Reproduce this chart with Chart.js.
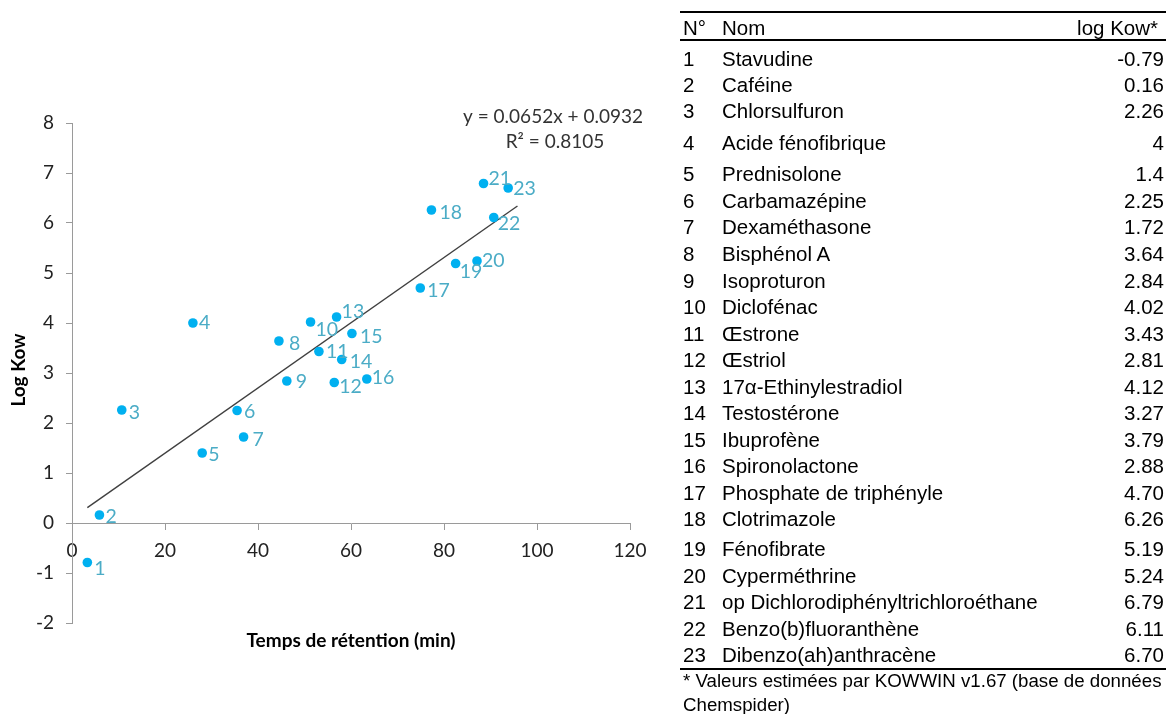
<!DOCTYPE html>
<html>
<head>
<meta charset="utf-8">
<script src="https://cdn.jsdelivr.net/npm/chart.js@4.4.1/dist/chart.umd.min.js"></script>
<style>
  html, body { margin:0; padding:0; background:#fff; }
  body { width:1169px; height:714px; position:relative; overflow:hidden; }
  #wrap { position:absolute; left:0; top:0; width:660px; height:714px; }
  #tbl { position:absolute; left:0; top:0; width:1169px; height:714px; font-family:'Liberation Sans', Arial, sans-serif; color:#000; }
  .t { position:absolute; white-space:nowrap; height:26px; line-height:26px; font-size:20.5px; }
  .rule { position:absolute; left:680px; width:486px; background:#000; }
</style>
</head>
<body>
<div id="wrap"><canvas id="c" width="660" height="714"></canvas></div>
<div id="tbl"></div>
<script>
// ---------- data ----------
const compoundIds = ['1','2','3','4','5','6','7','8','9','10','11','12','13','14','15','16','17','18','19','20','21','22','23'];
const retentionTimes = [3.3, 5.9, 10.7, 26.0, 28.0, 35.5, 36.9, 44.5, 46.2, 51.3, 53.1, 56.4, 56.9, 58.0, 60.2, 63.4, 74.9, 77.3, 82.5, 87.1, 88.5, 90.7, 93.8];
const logKow = [-0.79, 0.16, 2.26, 4, 1.4, 2.25, 1.72, 3.64, 2.84, 4.02, 3.43, 2.81, 4.12, 3.27, 3.79, 2.88, 4.70, 6.26, 5.19, 5.24, 6.79, 6.11, 6.70];
const logKowText = ['-0.79','0.16','2.26','4','1.4','2.25','1.72','3.64','2.84','4.02','3.43','2.81','4.12','3.27','3.79','2.88','4.70','6.26','5.19','5.24','6.79','6.11','6.70'];
const compoundNames = ['Stavudine','Caféine','Chlorsulfuron','Acide fénofibrique','Prednisolone','Carbamazépine','Dexaméthasone','Bisphénol A','Isoproturon','Diclofénac','Œstrone','Œstriol','17α-Ethinylestradiol','Testostérone','Ibuprofène','Spironolactone','Phosphate de triphényle','Clotrimazole','Fénofibrate','Cyperméthrine','op Dichlorodiphényltrichloroéthane','Benzo(b)fluoranthène','Dibenzo(ah)anthracène'];
const trendSlope = 0.0652;
const trendIntercept = 0.0932;
const trendR2 = '0.8105';
const trendXRange = [3.3, 95.8];
const xTickRange = [0, 120, 20];
const yTickRange = [-2, 8, 1];
const xAxisTitle = 'Temps de rétention (min)';
const yAxisTitle = 'Log Kow';
const tableHeader = ['N°', 'Nom', 'log Kow*'];
const footnoteLines = ['* Valeurs estimées par KOWWIN v1.67 (base de données', 'Chemspider)'];

// ---------- style (label nudges in px) ----------
const labelDx = [7,6,7,6,6,7,9,10,9,5,7,5,5,8,8,5,7,8,4,5,5,4,5];
const labelDy = [6,2,3,0,2,1,3,3,1,8,0,4,-5,2,3,-1,3,3,8,0,-5,6,1];

const points = retentionTimes.map((x, i) => ({x: x, y: logKow[i]}));
const trendPoints = trendXRange.map(x => ({x: x, y: trendSlope * x + trendIntercept}));

const FONT = 'Lato, "Open Sans", sans-serif';
const axisGray = '#9a9a9a';

const overlay = {
  id: 'overlay',
  afterDatasetsDraw(chart) {
    const ctx = chart.ctx;
    const meta = chart.getDatasetMeta(0);
    ctx.save();
    ctx.font = '19.5px ' + FONT;
    ctx.fillStyle = '#4BACC6';
    ctx.textAlign = 'left';
    ctx.textBaseline = 'middle';
    meta.data.forEach((el, i) => {
      ctx.fillText(compoundIds[i], el.x + labelDx[i], el.y + labelDy[i]);
    });
    // trendline equation
    const ca = chart.chartArea;
    ctx.font = '19px ' + FONT;
    ctx.fillStyle = '#333';
    ctx.textAlign = 'center';
    const sign = trendIntercept >= 0 ? '+' : '-';
    ctx.fillText('y = ' + trendSlope.toFixed(4) + 'x ' + sign + ' ' + Math.abs(trendIntercept).toFixed(4), ca.left + 481, ca.top - 6);
    ctx.fillText('R² = ' + trendR2, ca.left + 483, ca.top + 19);
    // axis titles
    ctx.fillStyle = '#000';
    ctx.font = 'bold 19px ' + FONT;
    ctx.fillText(xAxisTitle, (ca.left + ca.right) / 2, ca.bottom + 18);
    ctx.translate(19, (ca.top + ca.bottom) / 2 - 3);
    ctx.rotate(-Math.PI / 2);
    ctx.fillText(yAxisTitle, 0, 0);
    ctx.restore();
  }
};

new Chart(document.getElementById('c'), {
  type: 'scatter',
  data: {
    datasets: [
      { label: 'Log Kow', data: points, backgroundColor: '#00B0F0', borderColor: '#00B0F0', borderWidth: 0, pointRadius: 4.8, pointHoverRadius: 4.8 },
      { type: 'line', label: 'Linéaire', data: trendPoints, borderColor: '#404040', borderWidth: 1.4, pointRadius: 0, showLine: true, fill: false, tension: 0 }
    ]
  },
  options: {
    responsive: false,
    animation: false,
    devicePixelRatio: 1,
    layout: { padding: { left: 0, top: 123, right: 30, bottom: 91 } },
    plugins: { legend: { display: false }, tooltip: { enabled: false } },
    scales: {
      x: {
        type: 'linear', position: { y: 0 },
        min: xTickRange[0], max: xTickRange[1],
        ticks: { stepSize: xTickRange[2], font: { family: FONT, size: 19 }, color: '#222', padding: 10, maxRotation: 0 },
        grid: { drawOnChartArea: false, drawTicks: true, tickLength: 6, color: axisGray },
        border: { color: axisGray, width: 1 },
        afterFit(s) { s.height = 0; }
      },
      y: {
        type: 'linear', position: 'left',
        min: yTickRange[0], max: yTickRange[1],
        ticks: { stepSize: yTickRange[2], font: { family: FONT, size: 19 }, color: '#222', padding: 12 },
        grid: { drawOnChartArea: false, drawTicks: true, tickLength: 6, color: axisGray },
        border: { color: axisGray, width: 1 },
        afterFit(s) { s.width = 72; }
      }
    }
  },
  plugins: [overlay]
});

// ---------- table ----------
const tbl = document.getElementById('tbl');
function addText(txt, left, centerY, align, extra) {
  const d = document.createElement('div');
  d.className = 't';
  d.textContent = txt;
  d.style.top = (centerY - 13) + 'px';
  if (align === 'right') { d.style.right = (1169 - left) + 'px'; } else { d.style.left = left + 'px'; }
  if (extra) Object.assign(d.style, extra);
  tbl.appendChild(d);
}
function addRule(top, h) {
  const r = document.createElement('div');
  r.className = 'rule';
  r.style.top = top + 'px';
  r.style.height = h + 'px';
  tbl.appendChild(r);
}
addRule(11, 2);
addText(tableHeader[0], 683, 28, 'left');
addText(tableHeader[1], 722, 28, 'left');
addText(tableHeader[2], 1158, 28, 'right');
addRule(39, 2);
const rowGaps = [0, 26.2, 26.2, 31.5, 31.5, 26.54, 26.54, 26.54, 26.54, 26.54, 26.54, 26.54, 26.54, 26.54, 26.54, 26.54, 26.54, 26.54, 30, 26.5, 26.5, 26.5, 26.5];
let cy = 59;
compoundNames.forEach((nm, i) => {
  cy += rowGaps[i];
  addText(compoundIds[i], 683, cy, 'left');
  addText(nm, 722, cy, 'left');
  addText(logKowText[i], 1164, cy, 'right');
});
addRule(668, 2);
addText(footnoteLines[0], 683, 681, 'left', { fontSize: '18.7px' });
addText(footnoteLines[1], 683, 705, 'left', { fontSize: '18.7px' });
</script>
</body>
</html>
